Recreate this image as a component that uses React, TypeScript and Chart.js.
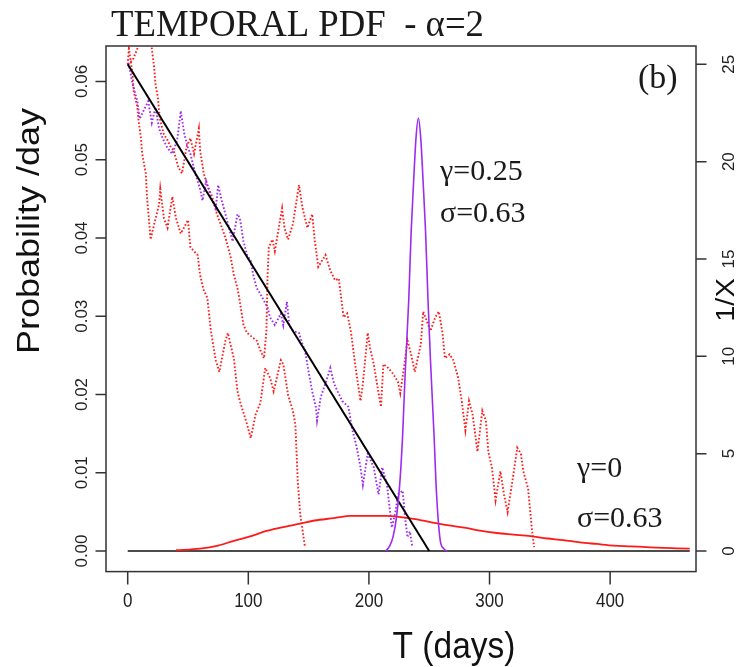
import React, { useEffect, useRef } from "react";
import { Chart, registerables } from "chart.js";

Chart.register(...registerables);

// ---------- axis ticks ----------
const xTicks = [0, 100, 200, 300, 400];
const yTicks = [0, 0.01, 0.02, 0.03, 0.04, 0.05, 0.06];
const yTickLabels = ["0.00", "0.01", "0.02", "0.03", "0.04", "0.05", "0.06"];
const y2Ticks = [0, 5, 10, 15, 20, 25];

// ---------- texts ----------
const titleText = "TEMPORAL PDF  - \u03b1=2";
const panelText = "(b)";
const xTitle = "T (days)";
const yTitle = "Probability /day";
const y2Title = "1/X";
const annoTop = ["\u03b3=0.25", "\u03c3=0.63"];
const annoBottom = ["\u03b3=0", "\u03c3=0.63"];

// ---------- series (T in days) ----------
// black straight line, right axis (1/X)
const blackLineT = [0, 250];
const blackLineV = [25, 0];
// black zero baseline, left axis
const baselineT = [0, 466];
const baselineV = [0, 0];

// purple smooth PDF (gamma = 0.25), left axis
const purplePdfT = [214, 217, 220, 223, 226, 228, 230, 233, 235, 237, 239, 241, 243, 245, 247, 249, 251, 254, 256, 259, 262, 265];
const purplePdfV = [0, 0.0006, 0.0018, 0.0045, 0.0095, 0.015, 0.0225, 0.032, 0.0407, 0.047, 0.0527, 0.0553, 0.0527, 0.047, 0.0407, 0.032, 0.0245, 0.0148, 0.0075, 0.0015, 0.0003, 0];

// red smooth PDF (gamma = 0), left axis
const redPdfT = [40, 60, 75, 88, 100, 116, 130, 143, 155, 171, 185, 200, 215, 223, 237, 251, 265, 279, 292, 306, 320, 334, 348, 361, 375, 389, 403, 417, 430, 444, 455, 466];
const redPdfV = [0.0001, 0.0003, 0.0007, 0.0013, 0.0018, 0.0026, 0.0031, 0.0035, 0.0039, 0.0042, 0.0045, 0.0045, 0.0045, 0.0044, 0.0041, 0.0037, 0.0033, 0.003, 0.0026, 0.0023, 0.0021, 0.0019, 0.0016, 0.0014, 0.0011, 0.0009, 0.0007, 0.0006, 0.0005, 0.0004, 0.00035, 0.0003];

// purple dotted random walk, right axis
const purpleWalkT = [0, 1, 4, 8, 10, 13, 17, 20, 23, 26, 29, 33, 37, 41, 44, 47, 50, 52, 56, 60, 62, 65, 69, 73, 75, 78, 81, 84, 87, 91, 93, 96, 99, 102, 104, 107, 110, 116, 118, 122, 127, 129, 132, 134, 137, 142, 145, 147, 150, 153, 156, 157, 160, 164, 168, 171, 174, 178, 183, 186, 190, 193, 195, 199, 204, 208, 211, 215, 219, 222, 224, 228, 230, 232, 234, 236];
const purpleWalkV = [25.0, 25.0, 24.0, 23.1, 22.2, 22.6, 23.1, 22.0, 22.8, 21.7, 21.2, 20.7, 20.4, 21.1, 22.6, 21.4, 20.7, 20.4, 19.4, 18.6, 18.0, 19.0, 18.2, 17.6, 18.8, 18.0, 17.3, 16.6, 15.9, 17.3, 17.1, 15.9, 15.2, 14.9, 14.2, 13.5, 13.2, 12.5, 12.0, 11.6, 12.2, 11.6, 12.8, 11.6, 11.3, 11.2, 10.6, 10.3, 9.2, 8.2, 7.4, 6.7, 7.9, 8.6, 9.4, 8.6, 8.2, 7.7, 7.4, 6.3, 5.3, 4.3, 3.4, 5.0, 4.3, 2.9, 4.3, 3.4, 1.2, 2.0, 2.9, 3.1, 1.7, 0.7, 1.0, 0.2];

// red dotted random walk #1, right axis
const redWalk1T = [0, 1, 4, 5, 8, 9, 11, 12, 15, 16, 19, 22, 26, 27, 30, 33, 37, 40, 44, 50, 52, 58, 60, 63, 66, 69, 73, 76, 81, 83, 88, 91, 93, 99, 102, 106, 110, 114, 118, 121, 127, 129, 133, 137, 139, 141, 143, 147];
const redWalk1V = [25.0, 25.8, 24.5, 23.6, 22.8, 22.1, 21.2, 20.4, 19.4, 18.2, 16.0, 16.8, 17.8, 18.6, 17.1, 16.6, 18.2, 17.1, 16.3, 17.0, 15.6, 15.2, 14.2, 13.4, 13.0, 11.3, 9.8, 9.2, 10.8, 11.2, 9.9, 8.2, 7.7, 6.5, 5.8, 7.0, 7.6, 9.4, 8.9, 8.2, 9.8, 9.6, 8.0, 7.2, 6.5, 3.6, 1.9, 0.2];

// red dotted random walk #2, right axis
const redWalk2T = [0, 4, 8, 11, 17, 20, 22, 23, 25, 26, 27, 30, 33, 36, 38, 42, 45, 49, 52, 55, 59, 60, 63, 66, 70, 74, 77, 81, 85, 88, 91, 93, 96, 99, 103, 107, 110, 113, 115, 116, 117, 120, 122, 128, 130, 133, 137, 142, 145, 149, 153, 155, 158, 164, 168, 172, 175, 179, 182, 185, 189, 193, 195, 199, 201, 204, 208, 210, 212, 216, 220, 224, 226, 229, 232, 235, 238, 243, 245, 248, 251, 255, 258, 261, 263, 267, 270, 274, 277, 280, 283, 286, 290, 294, 297, 299, 302, 305, 309, 312, 315, 319, 323, 326, 328, 332, 335, 337];
const redWalk2V = [25.0, 25.2, 25.8, 26.8, 27.2, 25.8, 24.8, 24.0, 23.3, 22.6, 22.1, 21.4, 21.1, 20.7, 20.6, 19.7, 19.4, 20.8, 21.2, 20.4, 21.7, 20.6, 19.4, 18.8, 18.2, 17.3, 16.8, 16.1, 15.2, 14.2, 13.5, 12.8, 11.6, 11.2, 11.0, 10.8, 10.3, 9.9, 11.3, 14.2, 15.6, 16.0, 15.4, 17.6, 16.6, 16.0, 16.8, 18.8, 17.6, 16.6, 17.3, 16.0, 14.6, 15.2, 14.4, 13.9, 14.0, 12.0, 12.2, 11.3, 9.4, 7.7, 8.6, 11.2, 10.4, 9.6, 8.1, 7.4, 9.6, 9.4, 9.1, 8.7, 8.1, 9.4, 10.8, 10.1, 9.2, 10.6, 12.3, 11.8, 11.3, 12.0, 12.3, 11.2, 9.9, 10.1, 9.8, 8.9, 7.7, 6.2, 7.7, 7.0, 5.1, 7.2, 6.7, 5.1, 4.3, 2.6, 4.1, 2.9, 2.0, 3.6, 5.3, 5.0, 4.1, 3.2, 1.2, 0.2];

const RED = "#FF1A1A";
const PURPLE = "#9E2BEE";

const pts = (t: number[], v: number[]) => t.map((x, i) => ({ x, y: v[i] }));

function drawText(
  ctx: CanvasRenderingContext2D,
  s: string,
  x: number,
  y: number,
  o: { size: number; family: string; align?: CanvasTextAlign; base?: CanvasTextBaseline; rot?: number; sx?: number; color?: string; fitWidth?: number }
) {
  ctx.save();
  ctx.font = `${o.size}px ${o.family}`;
  let sx = o.sx ?? 1;
  if (o.fitWidth) {
    const w = ctx.measureText(s).width;
    sx = o.fitWidth / w;
  }
  ctx.translate(x, y);
  ctx.scale(sx, 1);
  if (o.rot) ctx.rotate(o.rot);
  ctx.textAlign = o.align ?? "left";
  ctx.textBaseline = o.base ?? "alphabetic";
  ctx.fillStyle = o.color ?? "#1a1a1a";
  ctx.fillText(s, 0, 0);
  ctx.restore();
}

const SANS = "'Liberation Sans', Arial, sans-serif";
const SERIF = "'Liberation Serif', 'Times New Roman', serif";

const framePlugin = {
  id: "rframe",
  afterDraw(chart: any) {
    const { ctx, chartArea: a, scales } = chart;
    const x = scales.x, y = scales.y, y2 = scales.y2;
    ctx.save();
    ctx.strokeStyle = "#333";
    ctx.lineWidth = 1.5;
    ctx.strokeRect(a.left, a.top, a.right - a.left, a.bottom - a.top);
    ctx.beginPath();
    xTicks.forEach((t) => {
      const px = x.getPixelForValue(t);
      ctx.moveTo(px, a.bottom);
      ctx.lineTo(px, a.bottom + 13);
    });
    yTicks.forEach((t) => {
      const py = y.getPixelForValue(t);
      ctx.moveTo(a.left, py);
      ctx.lineTo(a.left - 10.5, py);
    });
    y2Ticks.forEach((t) => {
      const py = y2.getPixelForValue(t);
      ctx.moveTo(a.right, py);
      ctx.lineTo(a.right + 10.5, py);
    });
    ctx.stroke();
    ctx.restore();

    xTicks.forEach((t) => {
      drawText(ctx, String(t), x.getPixelForValue(t), 607, { size: 20, family: SANS, align: "center", sx: 0.85, color: "#222" });
    });
    yTicks.forEach((t, i) => {
      drawText(ctx, yTickLabels[i], 87, y.getPixelForValue(t), { size: 17, family: SANS, align: "center", rot: -Math.PI / 2, color: "#222" });
    });
    y2Ticks.forEach((t) => {
      drawText(ctx, String(t), 734, y2.getPixelForValue(t), { size: 17, family: SANS, align: "center", rot: -Math.PI / 2, color: "#222" });
    });
    drawText(ctx, yTitle, 39, 231, { size: 36, family: SANS, align: "center", rot: -Math.PI / 2, sx: 0.88, color: "#111" });
    drawText(ctx, y2Title, 734, 300, { size: 29, family: SANS, align: "center", rot: -Math.PI / 2, sx: 0.88, color: "#111" });
    drawText(ctx, xTitle, 454, 658, { size: 36, family: SANS, align: "center", sx: 0.93, color: "#111" });

    drawText(ctx, titleText, 111, 36, { size: 38, family: SERIF, fitWidth: 373, color: "#1a1a1a" });
    drawText(ctx, panelText, 638, 88, { size: 34, family: SERIF, color: "#1a1a1a" });
    drawText(ctx, annoTop[0], 440, 180, { size: 30, family: SERIF, color: "#1a1a1a" });
    drawText(ctx, annoTop[1], 440, 222, { size: 30, family: SERIF, color: "#1a1a1a" });
    drawText(ctx, annoBottom[0], 577, 477, { size: 30, family: SERIF, color: "#1a1a1a" });
    drawText(ctx, annoBottom[1], 577, 527, { size: 30, family: SERIF, color: "#1a1a1a" });
  },
};

export default function App() {
  const ref = useRef<HTMLCanvasElement | null>(null);
  useEffect(() => {
    if (!ref.current) return;
    const dotted = { borderDash: [1.6, 2], borderWidth: 1.9, pointRadius: 0, tension: 0, borderCapStyle: "butt" as const };
    const chart = new Chart(ref.current, {
      type: "line",
      data: {
        datasets: [
          { label: "purple pdf", data: pts(purplePdfT, purplePdfV), yAxisID: "y", borderColor: PURPLE, borderWidth: 1.6, pointRadius: 0, cubicInterpolationMode: "monotone" },
          { label: "1/X", data: pts(blackLineT, blackLineV), yAxisID: "y2", borderColor: "#000", borderWidth: 2, pointRadius: 0 },
          { label: "red pdf", data: pts(redPdfT, redPdfV), yAxisID: "y", borderColor: RED, borderWidth: 1.8, pointRadius: 0, cubicInterpolationMode: "monotone" },
          { label: "zero", data: pts(baselineT, baselineV), yAxisID: "y", borderColor: "#111", borderWidth: 1.6, pointRadius: 0 },
          { label: "purple walk", data: pts(purpleWalkT, purpleWalkV), yAxisID: "y2", borderColor: PURPLE, ...dotted },
          { label: "red walk 1", data: pts(redWalk1T, redWalk1V), yAxisID: "y2", borderColor: RED, ...dotted },
          { label: "red walk 2", data: pts(redWalk2T, redWalk2V), yAxisID: "y2", borderColor: RED, ...dotted },
        ],
      },
      options: {
        animation: false,
        responsive: false,
        devicePixelRatio: 1,
        events: [],
        layout: { padding: { left: 106, top: 46, right: 48, bottom: 95.4 } },
        plugins: { legend: { display: false }, tooltip: { enabled: false }, title: { display: false } },
        scales: {
          x: { type: "linear", min: -18, max: 471.2, display: false },
          y: { type: "linear", min: -0.00263, max: 0.06453, display: false },
          y2: { type: "linear", min: -1.06, max: 25.94, display: false },
        },
      },
      plugins: [framePlugin],
    });
    return () => chart.destroy();
  }, []);
  return (
    <div style={{ position: "fixed", left: 0, top: 0, width: 744, height: 667, background: "#fff" }}>
      <canvas ref={ref} width={744} height={667} style={{ width: 744, height: 667, display: "block" }} />
    </div>
  );
}
